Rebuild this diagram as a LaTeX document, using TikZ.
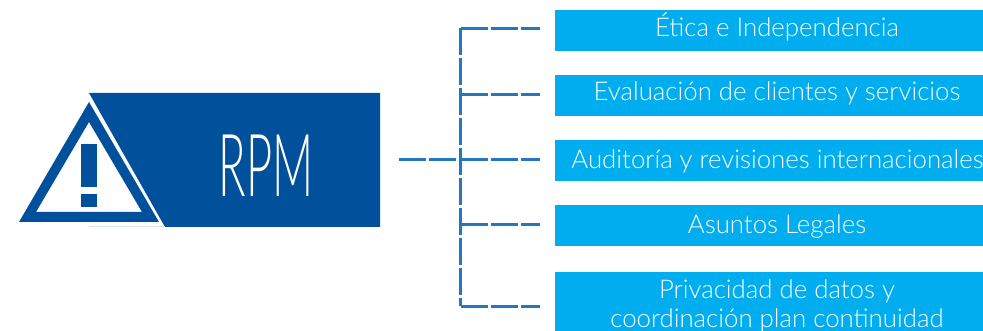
\documentclass[tikz,border=0pt]{standalone}
\usepackage{fontspec}
\setmainfont{Lato}[UprightFont=*-Light]
\definecolor{navy}{HTML}{00509B}
\definecolor{sky}{HTML}{00AEEF}
\definecolor{wire}{HTML}{2277C0}
\definecolor{paleline}{HTML}{D3E2F0}
\tikzset{
  x=1pt,y=-1pt,
  itembox/.style={fill=sky,inner sep=0pt,minimum width=428pt,anchor=north west},
  itemtext/.style={text=white,font=\fontsize{25.8}{29.5}\selectfont,align=center,inner sep=0pt},
  wireline/.style={draw=wire,line width=3pt,dash pattern=on 27pt off 3pt},
}
\begin{document}
\begin{tikzpicture}
\useasboundingbox (0,0) rectangle (983,331);
% main block
\fill[navy] (89,93) -- (380,93) -- (380,227) -- (165,227) -- cycle;
\draw[paleline,line width=1pt] (89,226.5) -- (165,226.5);
\node[inner sep=0pt,minimum width=0pt] (rpm) at (266,165.5) {\scalebox{0.52}[1]{\color{white}\fontsize{87}{87}\selectfont RPM}};
\coordinate (rpmedge) at (380,160);
% warning triangle
\fill[navy,even odd rule] (89,102) -- (159,222) -- (19,222) -- cycle (89,122) -- (142,212) -- (36,212) -- cycle;
\fill[navy] (81,144) rectangle (97,187);
\fill[navy] (81,194) rectangle (97,207);
% items
\node[itembox,minimum height=41pt] (i1) at (555,10) {};
\node[itembox,minimum height=41pt] (i2) at (555,75) {};
\node[itembox,minimum height=41pt] (i3) at (555,140) {};
\node[itembox,minimum height=41pt] (i4) at (555,205) {};
\node[itembox,minimum height=59pt] (i5) at (555,272) {};
\node[itemtext] (t1) at (777,27) {Ética e Independencia};
\node[itemtext] (t2) at (777,93) {Evaluación de clientes y servicios};
\node[itemtext] (t3) at (777.5,161) {Auditoría y revisiones internacionales};
\node[itemtext] (t4) at (777,227) {Asuntos Legales};
\node[itemtext] (t5) at (777,306) {Privacidad de datos y\\coordinación plan continuidad};
% connectors
\coordinate (top) at (460.5,28.4);
\coordinate (mid) at (460.5,160);
\coordinate (j2) at (460.5,95);
\coordinate (j4) at (460.5,225);
\coordinate (bot) at (460.5,306);
\draw[wireline] (top) -- (bot);
\draw[wireline,shorten >=15pt] (top) -- (top -| i1.west);
\draw[wireline,shorten >=15pt] (j2) -- (j2 -| i2.west);
\draw[wireline,shorten >=15pt] (mid) -- (mid -| i3.west);
\draw[wireline,shorten >=15pt] (j4) -- (j4 -| i4.west);
\draw[wireline,shorten >=15pt] (bot) -- (bot -| i5.west);
\draw[wireline,shorten <=19pt] (rpmedge) -- (mid);
\end{tikzpicture}
\end{document}
